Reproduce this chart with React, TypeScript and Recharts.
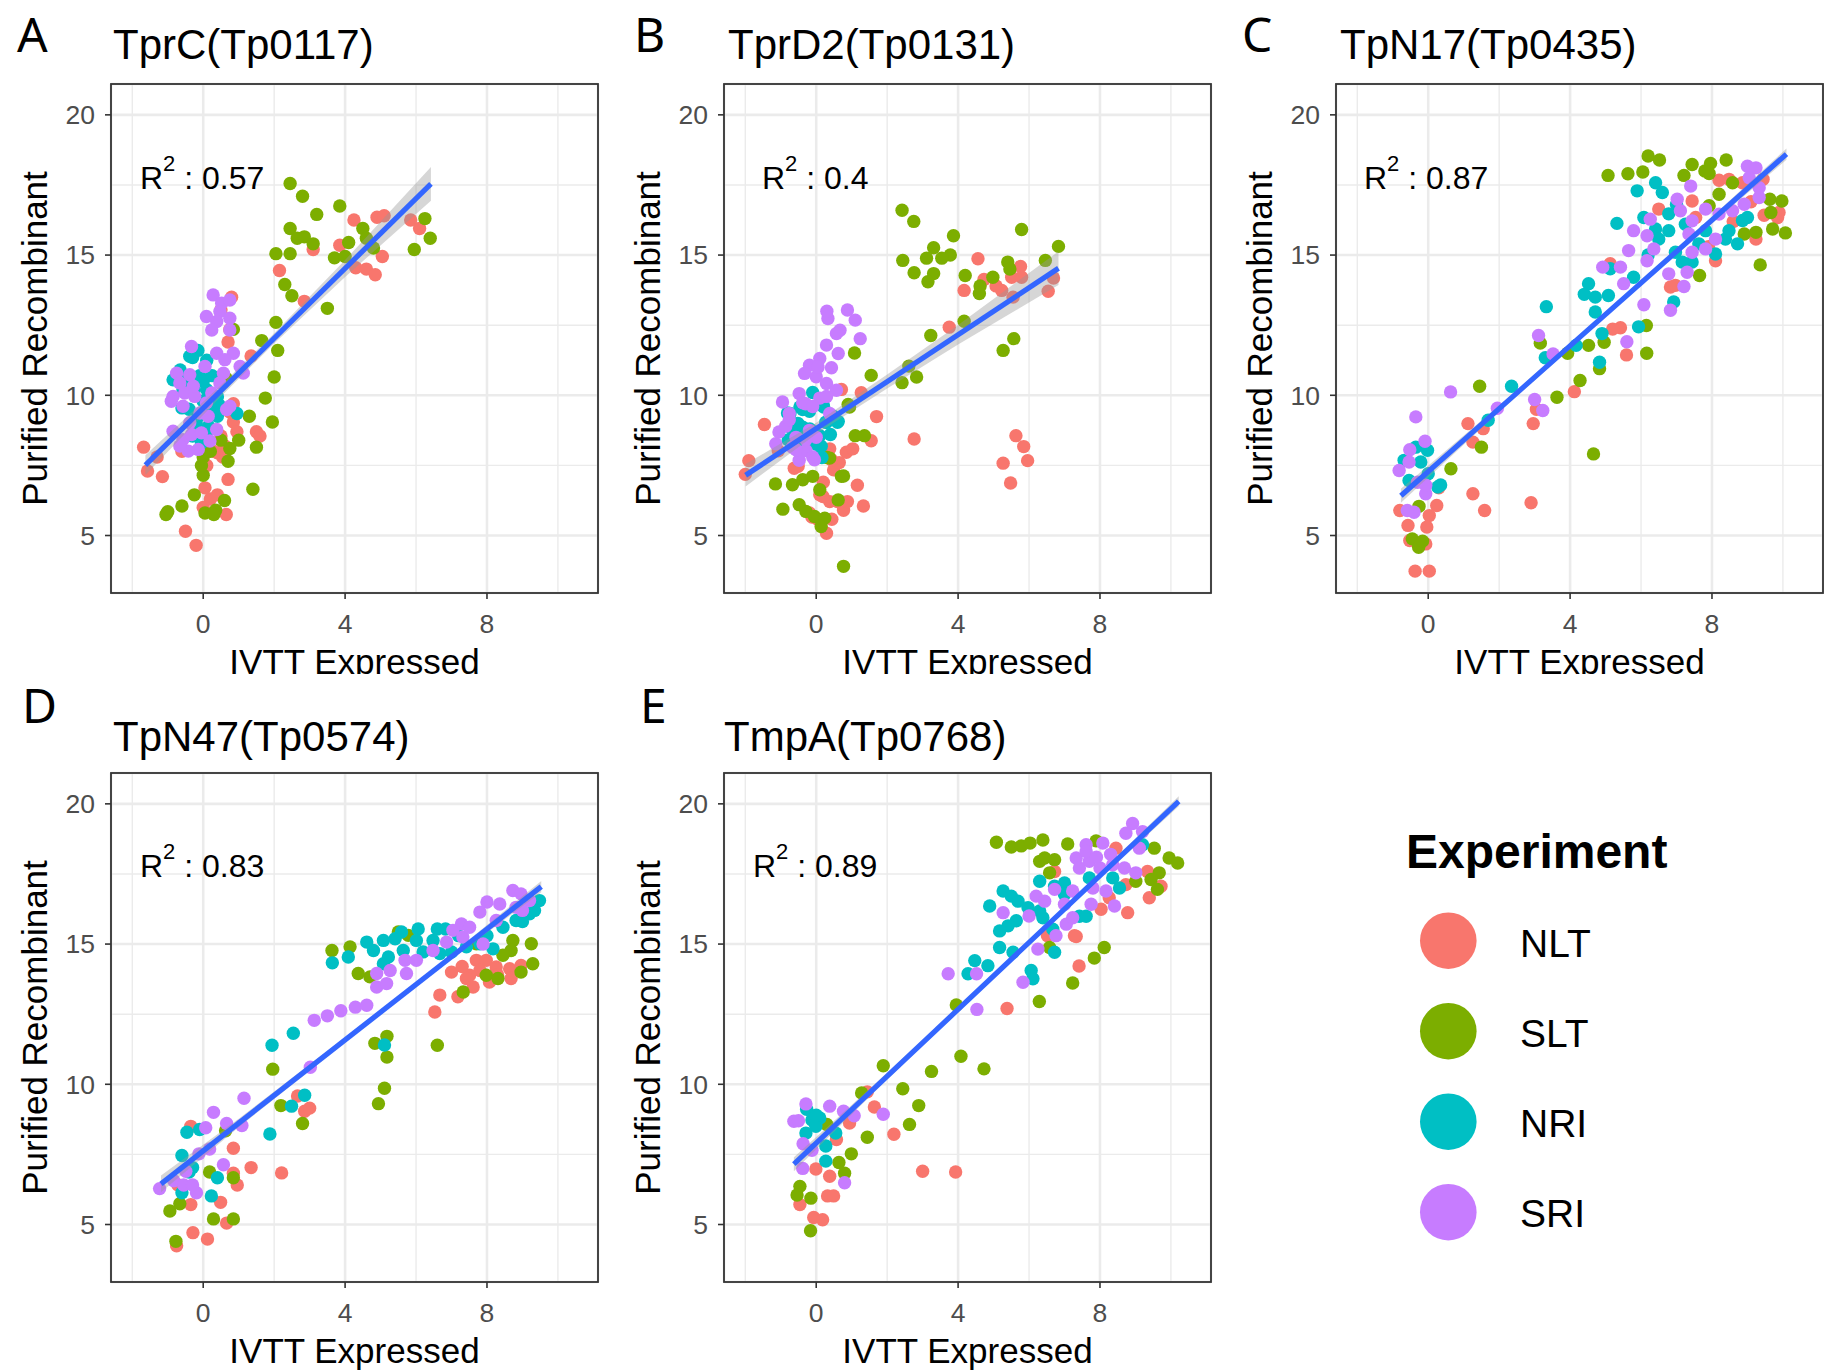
import React from "react";
import { Area, CartesianGrid, ComposedChart, Line, Scatter, XAxis, YAxis } from "recharts";

type Pt = [number, number];
type Band = [number, number, number];

const GROUPS = ["NLT", "SLT", "NRI", "SRI"];
const COLORS = ["#F8766D", "#7CAE00", "#00BFC4", "#C77CFF"];

const X_TICKS = [0, 4, 8];
const Y_TICKS = [5, 10, 15, 20];
const X_MINOR = [-2, 2, 6, 10];
const Y_MINOR = [7.5, 12.5, 17.5];
const X_DOMAIN = [-2.6, 11.13];
const Y_DOMAIN = [2.95, 21.1];

// ---- A: TprC(Tp0117)
const A_NLT: Pt[] = [
  [-1.68, 8.15], [-1.57, 7.3], [-1.3, 7.8], [-1.15, 7.1], [-0.5, 5.15], [-0.2, 4.65], [-0.6, 8.0],
  [0.0, 6.0], [0.05, 6.7], [0.1, 7.5], [0.2, 6.3], [0.4, 6.45], [0.4, 7.95], [0.3, 8.0], [0.5, 8.55],
  [0.55, 7.8], [0.6, 8.2], [0.65, 5.75], [0.7, 7.0], [0.75, 9.4], [0.85, 9.05], [0.85, 9.7], [0.95, 8.7],
  [1.5, 8.7], [1.6, 8.55], [0.7, 11.9], [0.75, 12.35], [0.8, 13.5], [1.35, 11.4], [0.5, 13.05],
  [2.15, 14.45], [2.85, 13.35], [3.1, 15.2], [3.85, 15.35], [4.25, 16.25], [4.3, 14.55], [4.6, 14.5],
  [4.85, 14.3], [5.05, 14.95], [4.9, 16.35], [5.1, 16.4], [5.85, 16.25], [6.1, 15.95],
];
const A_SLT: Pt[] = [
  [2.45, 17.55], [2.8, 17.1], [3.85, 16.75], [3.2, 16.45], [2.45, 15.95], [2.65, 15.6], [2.85, 15.65],
  [3.1, 15.4], [2.05, 15.05], [2.45, 15.05], [2.3, 13.95], [2.5, 13.55], [3.5, 13.1], [4.1, 15.45],
  [4.5, 15.95], [4.8, 15.25], [3.7, 14.9], [4.0, 14.95], [4.6, 15.6], [6.25, 16.3], [5.95, 15.2], [6.4, 15.6],
  [2.05, 12.6], [2.1, 11.6], [1.65, 11.95], [2.0, 10.65], [1.75, 9.9], [1.95, 9.05], [1.3, 9.25],
  [1.5, 8.15], [1.0, 8.4], [1.4, 6.65], [0.85, 12.35], [-1.0, 5.85], [-1.05, 5.75], [-0.6, 6.05],
  [-0.25, 6.45], [0.05, 5.8], [0.35, 5.9], [0.3, 5.75], [0.6, 6.25], [0.0, 7.15], [-0.05, 7.5],
  [0.0, 7.8], [0.2, 8.0], [0.5, 8.4], [0.7, 7.65], [0.75, 8.1], [0.65, 10.6],
];
const A_NRI: Pt[] = [
  [-0.15, 11.6], [-0.3, 11.35], [0.1, 11.25], [-0.65, 10.9], [-0.85, 10.55], [-0.45, 10.55], [-0.1, 10.7],
  [0.25, 10.7], [0.1, 10.2], [0.4, 9.95], [0.25, 9.6], [0.95, 9.35], [-0.4, 9.5], [-0.2, 9.0], [0.15, 8.9],
  [0.4, 9.25], [-0.3, 8.55], [-0.05, 8.3], [-0.6, 9.55], [0.45, 9.65], [0.0, 9.8], [-0.25, 10.2],
  [-0.38, 11.39], [0.0, 10.5], [0.33, 9.79], [-0.14, 9.25], [0.09, 8.6], [-0.57, 10.2],
];
const A_SRI: Pt[] = [
  [0.28, 13.58], [0.52, 13.28], [0.75, 13.4], [0.47, 12.99], [0.09, 12.81], [0.38, 12.63], [0.75, 12.75],
  [0.24, 12.33], [0.75, 12.33], [-0.33, 11.74], [0.38, 11.5], [0.85, 11.5], [0.61, 11.27], [1.04, 11.03],
  [1.13, 10.79], [-0.75, 10.79], [-0.38, 10.73], [0.05, 11.03], [0.57, 10.79], [0.47, 10.44], [-0.85, 9.96],
  [-0.9, 9.79], [-0.52, 10.08], [-0.24, 9.96], [0.09, 9.73], [-0.57, 9.61], [-0.09, 9.37], [0.14, 9.25],
  [0.75, 9.61], [-0.85, 8.72], [-0.57, 8.42], [-0.33, 8.6], [-0.05, 8.66], [0.19, 8.37], [-0.42, 8.01],
  [-0.14, 8.07], [-0.66, 8.19], [-0.66, 10.44], [-0.28, 10.32], [0.24, 10.08], [-0.38, 9.02], [0.38, 8.78],
  [0.66, 9.49],
];
const A_FIT: Pt[] = [[-1.63, 7.51], [6.42, 17.54]];
const A_BAND: Band[] = [[-1.63, 7.16, 7.86], [0.5, 9.96, 10.36], [2, 11.85, 12.21], [4, 14.22, 14.82], [6.42, 16.94, 18.14]];

// ---- B: TprD2(Tp0131)
const B_NLT: Pt[] = [
  [-2.0, 7.18], [-1.9, 7.67], [-1.46, 8.96], [-1.07, 8.02], [-0.51, 7.47], [-0.62, 7.4], [-0.12, 5.66],
  [-0.19, 5.8], [0.04, 5.58], [0.1, 6.45], [0.29, 5.08], [0.38, 6.21], [0.44, 5.58], [0.6, 6.21], [0.77, 5.9],
  [0.88, 6.21], [0.38, 8.09], [0.49, 7.34], [0.71, 10.21], [0.85, 7.97], [1.03, 8.09], [1.16, 6.79],
  [1.27, 10.09], [1.33, 6.05], [1.55, 8.38], [1.7, 9.24], [0.65, 7.6], [0.2, 6.9], [0.43, 7.7], [0.19, 6.39],
  [2.76, 8.44], [3.75, 12.43], [4.17, 13.74], [4.56, 14.87], [4.73, 14.13], [5.07, 13.9], [5.23, 13.74],
  [5.51, 14.21], [5.55, 13.5], [5.76, 14.59], [5.79, 14.21], [6.54, 13.71], [6.69, 14.18],
  [5.27, 7.58], [5.48, 6.87], [5.63, 8.56], [5.85, 8.17], [5.96, 7.67],
];
const B_SLT: Pt[] = [
  [2.42, 16.6], [2.75, 16.2], [3.87, 15.69], [3.31, 15.26], [3.78, 15.0], [3.54, 14.89], [3.11, 14.89],
  [2.44, 14.81], [2.76, 14.37], [3.31, 14.34], [3.15, 14.05], [5.79, 15.91], [6.83, 15.31], [6.46, 14.81],
  [5.4, 14.75], [5.46, 14.5], [4.2, 14.27], [4.98, 14.21], [4.62, 13.9], [4.6, 13.63], [4.17, 12.64],
  [5.57, 12.02], [5.27, 11.6], [3.23, 12.13], [2.61, 11.04], [2.83, 10.65], [2.42, 10.45], [1.55, 10.71],
  [1.08, 11.51], [0.94, 9.58], [1.1, 8.56], [1.36, 8.56], [0.77, 7.12], [-1.15, 6.84], [-0.67, 6.81],
  [-0.94, 5.94], [0.77, 3.9], [-0.38, 6.99], [-0.48, 6.1], [-0.29, 5.86], [-0.05, 5.68], [0.24, 5.62],
  [0.14, 5.32], [-0.1, 7.11], [0.1, 6.63], [0.71, 7.11], [0.62, 6.27], [0.3, 7.78], [0.38, 7.76], [0.9, 9.67],
];
const B_NRI: Pt[] = [
  [-0.1, 10.1], [0.19, 9.67], [-0.19, 9.43], [-0.52, 9.0], [-0.81, 9.37], [0.62, 9.07], [0.1, 7.82],
  [-0.38, 8.86], [0.29, 9.04], [-0.46, 9.58], [0.21, 9.58], [0.6, 9.04], [-0.74, 9.35], [-0.51, 8.96],
  [-0.18, 8.8], [0.1, 8.56], [-0.79, 8.41], [-0.35, 8.25], [0.16, 7.78], [0.27, 9.04], [-0.68, 8.8],
  [0.0, 8.25], [0.4, 8.6], [-0.38, 9.49], [-0.1, 8.71], [0.48, 9.25], [0.14, 8.18],
];
const B_SRI: Pt[] = [
  [0.88, 13.04], [0.33, 12.74], [1.1, 12.68], [0.67, 12.32], [1.24, 12.02], [0.29, 11.79], [0.62, 11.49],
  [0.1, 11.31], [-0.19, 11.07], [-0.33, 10.78], [0.0, 10.66], [0.29, 10.42], [0.57, 10.18], [-0.48, 10.06],
  [-0.95, 9.76], [-0.76, 9.35], [0.38, 9.35], [-1.05, 8.69], [-1.14, 8.27], [-0.67, 8.15], [-0.29, 8.03],
  [-0.48, 7.68], [-0.1, 7.8], [0.0, 8.5], [-0.57, 8.5], [-0.19, 8.75], [0.57, 12.2], [0.05, 11.0],
  [-0.86, 8.9], [0.3, 13.0], [-0.3, 9.7], [0.1, 9.9], [-0.38, 9.73], [-0.1, 9.6], [-0.76, 9.13],
  [-0.29, 8.42], [-0.57, 8.06], [-0.05, 7.7], [0.29, 9.96], [0.43, 10.98],
];
const B_FIT: Pt[] = [[-1.99, 7.15], [6.83, 14.53]];
const B_BAND: Band[] = [[-1.99, 6.75, 7.55], [0, 8.62, 9.02], [2, 10.24, 10.74], [4, 11.81, 12.51], [6.83, 13.93, 15.13]];

// ---- C: TpN17(Tp0435)
const C_NLT: Pt[] = [
  [-0.8, 5.89], [-0.57, 5.36], [0.03, 5.71], [-0.04, 5.3], [0.24, 6.07], [-0.07, 4.7], [-0.52, 4.82],
  [-0.37, 3.73], [0.03, 3.73], [1.12, 8.99], [1.26, 8.33], [1.26, 6.49], [1.59, 5.89], [1.55, 8.81], [0.3, 6.7],
  [2.96, 8.99], [3.05, 9.5], [2.9, 6.17], [4.12, 10.13], [5.59, 11.44], [5.42, 12.41], [5.2, 12.36],
  [8.2, 17.67], [8.48, 17.7], [8.86, 17.58], [9.44, 17.7], [9.47, 16.42], [9.85, 16.34], [9.89, 16.52],
  [9.24, 15.57], [8.1, 14.8], [6.5, 16.64], [7.54, 16.34], [7.44, 16.93], [6.83, 13.86], [6.97, 13.92],
  [5.13, 14.69], [8.6, 16.2], [9.1, 16.9], [7.9, 15.3],
];
const C_SLT: Pt[] = [
  [-0.26, 6.04], [-0.45, 4.88], [-0.27, 4.58], [-0.16, 4.8], [0.64, 7.38], [1.5, 8.15], [1.45, 10.32],
  [3.16, 11.86], [3.93, 11.5], [4.52, 11.78], [4.96, 11.89], [4.83, 10.95], [4.28, 10.53], [3.63, 9.93],
  [4.66, 7.91], [6.16, 11.5], [6.15, 12.49], [6.2, 18.53], [6.52, 18.39], [5.07, 17.84], [5.63, 17.9],
  [6.05, 17.96], [7.44, 18.23], [7.96, 18.27], [8.4, 18.39], [7.21, 17.84], [7.92, 17.91], [8.2, 17.17],
  [8.58, 17.58], [9.63, 16.99], [9.97, 16.93], [9.66, 16.52], [7.92, 16.76], [9.24, 15.81], [8.91, 15.75],
  [9.71, 15.93], [10.07, 15.79], [9.36, 14.65], [7.65, 14.27], [7.8, 18.0],
];
const C_NRI: Pt[] = [
  [-0.35, 8.15], [-0.02, 8.04], [-0.21, 7.62], [-0.68, 7.68], [-0.54, 6.96], [0.27, 6.73], [1.69, 9.11],
  [0.0, 7.2], [0.35, 6.8], [2.35, 10.32], [3.33, 13.16], [3.3, 11.34], [4.17, 11.78], [4.83, 11.18],
  [6.41, 17.58], [5.89, 17.29], [6.6, 17.23], [6.08, 16.34], [5.32, 16.13], [6.41, 15.93], [6.78, 15.87],
  [6.5, 15.57], [6.97, 15.1], [7.16, 14.75], [7.44, 14.75], [8.1, 15.04], [8.48, 15.87], [8.72, 15.4],
  [9.0, 16.34], [7.82, 15.87], [4.52, 13.98], [4.71, 13.5], [5.08, 13.56], [5.13, 14.51], [5.79, 14.21],
  [4.71, 12.97], [4.9, 12.2], [6.92, 13.33], [5.93, 12.44], [6.78, 16.47], [7.25, 16.1], [7.63, 15.4],
  [8.38, 15.57], [8.86, 16.23], [6.2, 15.0], [7.0, 16.8], [4.4, 13.6],
];
const C_SRI: Pt[] = [
  [0.63, 10.12], [-0.35, 9.23], [-0.09, 8.36], [-0.52, 8.06], [-0.82, 7.32], [-0.54, 7.62], [-0.07, 6.49],
  [-0.4, 5.83], [-0.59, 5.89], [-0.07, 6.79], [-0.3, 6.9], [1.95, 9.54], [3.0, 9.85], [3.23, 9.46],
  [3.11, 12.13], [3.52, 11.47], [9.0, 18.17], [9.24, 18.11], [9.05, 17.76], [9.33, 17.4], [7.4, 17.46],
  [7.02, 16.99], [7.11, 16.58], [7.44, 16.22], [7.82, 16.64], [8.2, 16.46], [8.58, 16.58], [8.91, 16.81],
  [6.26, 16.28], [5.79, 15.87], [6.17, 15.69], [7.35, 15.75], [8.1, 15.57], [7.82, 15.22], [7.44, 15.1],
  [6.36, 15.22], [5.65, 15.16], [6.17, 14.8], [6.78, 14.33], [7.3, 14.39], [7.21, 13.88], [6.08, 13.23],
  [6.83, 13.03], [4.92, 14.57], [5.42, 14.57], [5.51, 13.98], [5.6, 11.91], [9.33, 17.05],
];
const C_FIT: Pt[] = [[-0.77, 6.42], [10.1, 18.6]];
const C_BAND: Band[] = [[-0.77, 6.17, 6.67], [2, 9.4, 9.64], [5, 12.79, 12.99], [8, 16.13, 16.37], [10.1, 18.4, 18.8]];

// ---- D: TpN47(Tp0574)
const D_NLT: Pt[] = [
  [-0.75, 4.24], [-0.29, 4.71], [0.12, 4.48], [0.66, 5.05], [0.49, 5.79], [-0.35, 5.71], [-0.35, 8.5],
  [0.85, 7.72], [0.85, 6.83], [0.96, 6.41], [1.35, 7.03], [2.21, 6.84], [2.66, 9.58], [2.86, 9.04],
  [3.0, 9.15], [-0.71, 6.41], [7.7, 14.42], [7.98, 14.42], [8.26, 14.18], [7.8, 14.06], [7.51, 13.89],
  [8.07, 13.65], [8.64, 14.12], [8.68, 13.77], [8.96, 14.24], [7.0, 14.0], [7.42, 13.77], [6.67, 13.18],
  [7.18, 13.12], [6.53, 12.58], [7.61, 13.47], [8.3, 13.9], [7.3, 14.2],
];
const D_SLT: Pt[] = [
  [-0.94, 5.48], [-0.66, 5.74], [-0.77, 4.4], [0.18, 6.87], [0.29, 5.2], [0.85, 5.2], [0.85, 6.67],
  [0.63, 8.34], [1.96, 10.54], [2.19, 9.24], [2.8, 8.6], [4.84, 11.46], [5.18, 11.71], [5.18, 10.97],
  [5.11, 9.86], [4.94, 9.31], [6.6, 11.39], [5.5, 15.43], [5.78, 15.31], [4.14, 14.9], [3.63, 14.77],
  [4.37, 13.95], [4.7, 13.83], [7.7, 15.01], [8.73, 15.13], [8.68, 14.77], [9.25, 15.01], [9.29, 14.3],
  [8.96, 14.0], [7.98, 13.89], [8.31, 13.77], [7.33, 13.29], [8.45, 14.6],
];
const D_NRI: Pt[] = [
  [-0.46, 8.29], [-0.1, 8.39], [-0.6, 7.46], [-0.3, 7.03], [-0.6, 6.13], [0.23, 6.02], [0.4, 6.67],
  [1.94, 11.39], [2.54, 11.82], [1.88, 8.23], [2.49, 9.22], [2.86, 9.61], [5.11, 11.4], [-0.4, 6.87],
  [4.61, 15.07], [4.8, 14.77], [5.08, 15.13], [5.41, 15.19], [5.59, 15.43], [6.06, 15.54], [6.01, 15.13],
  [6.6, 15.54], [6.83, 15.54], [6.48, 15.13], [5.22, 14.54], [5.64, 14.77], [6.2, 14.72], [6.67, 14.66],
  [7.0, 14.72], [7.42, 14.9], [7.8, 15.01], [8.17, 14.83], [8.45, 15.6], [8.82, 15.84], [9.2, 16.08],
  [9.48, 16.55], [9.34, 16.2], [5.08, 14.3], [3.64, 14.33], [4.09, 14.54], [7.2, 15.3], [8.0, 15.3], [9.0, 15.8],
];
const D_SRI: Pt[] = [
  [-1.23, 6.28], [-0.83, 6.56], [-0.55, 6.41], [-0.19, 6.13], [-0.49, 6.9], [-0.12, 7.52], [0.07, 8.45],
  [0.29, 9.0], [0.66, 8.6], [1.09, 8.53], [1.15, 9.5], [0.18, 7.69], [0.57, 7.13], [3.02, 10.61],
  [3.13, 12.28], [3.5, 12.44], [3.88, 12.62], [4.29, 12.75], [-0.3, 6.41], [8.73, 16.91], [8.96, 16.79],
  [9.2, 16.55], [8.36, 16.43], [8.82, 16.31], [7.8, 16.14], [7.28, 15.72], [7.04, 15.49], [7.32, 15.25],
  [6.86, 15.07], [6.48, 14.77], [6.01, 14.42], [5.69, 14.42], [5.27, 14.06], [4.89, 13.95], [4.89, 13.47],
  [5.17, 13.59], [5.73, 13.95], [4.61, 12.82], [8.26, 15.84], [7.51, 15.6], [7.89, 15.0], [9.0, 16.2], [8.0, 16.5],
];
const D_FIT: Pt[] = [[-1.19, 6.45], [9.53, 17.05]];
const D_BAND: Band[] = [[-1.19, 6.15, 6.75], [1, 8.47, 8.77], [4, 11.48, 11.68], [7, 14.45, 14.65], [9.53, 16.85, 17.25]];

// ---- E: TmpA(Tp0768)
const E_NLT: Pt[] = [
  [-0.46, 5.71], [-0.07, 5.25], [0.18, 5.17], [0.32, 6.02], [0.49, 6.02], [-0.01, 6.98], [0.38, 6.72],
  [0.57, 8.03], [0.94, 8.62], [1.64, 9.19], [1.44, 9.73], [2.19, 8.22], [3.0, 6.9], [3.93, 6.87],
  [5.38, 12.7], [7.41, 14.22], [7.33, 15.27], [6.52, 15.3], [6.72, 17.59], [8.45, 18.42], [8.73, 17.12],
  [9.39, 16.65], [9.72, 17.06], [9.34, 17.59], [8.78, 16.12], [8.03, 16.24], [7.28, 15.3], [8.26, 16.65],
];
const E_SLT: Pt[] = [
  [3.95, 12.83], [4.08, 11.0], [4.73, 10.55], [3.25, 10.46], [2.89, 9.24], [2.44, 9.84], [1.89, 10.66],
  [1.28, 9.69], [1.44, 8.11], [2.63, 8.57], [0.99, 7.52], [0.64, 7.21], [0.8, 6.83], [-0.46, 6.36],
  [-0.54, 6.05], [-0.15, 5.94], [-0.16, 4.78], [0.3, 8.57], [6.29, 12.95], [5.08, 18.63], [5.5, 18.46],
  [5.78, 18.5], [6.03, 18.6], [6.39, 18.71], [7.09, 18.57], [6.3, 17.95], [6.44, 18.07], [6.72, 18.01],
  [7.89, 18.68], [9.53, 18.42], [9.95, 18.07], [10.19, 17.89], [9.67, 17.54], [9.44, 17.3], [9.01, 17.24],
  [9.62, 16.95], [8.12, 14.88], [7.84, 14.5], [7.23, 13.61], [6.58, 14.88], [6.58, 17.54],
];
const E_NRI: Pt[] = [
  [-0.27, 9.11], [-0.12, 8.73], [-0.29, 8.26], [0.1, 8.8], [0.27, 7.8], [0.55, 8.26], [0.27, 7.26],
  [-0.01, 8.5], [0.0, 8.9], [5.27, 16.89], [5.5, 16.71], [4.89, 16.36], [5.69, 16.53], [6.3, 17.24],
  [6.72, 17.06], [7.0, 17.18], [5.97, 16.3], [6.3, 16.18], [5.64, 15.83], [5.41, 15.65], [5.17, 15.47],
  [5.17, 14.88], [6.39, 15.94], [6.67, 15.53], [6.72, 14.71], [7.42, 15.99], [7.61, 15.99], [7.7, 17.36],
  [8.36, 17.36], [8.55, 17.0], [9.2, 18.54], [4.47, 14.41], [4.84, 14.23], [4.28, 13.94], [6.06, 14.06],
  [6.11, 13.76], [5.55, 14.71], [7.0, 16.77],
];
const E_SRI: Pt[] = [
  [-0.63, 8.68], [-0.29, 9.3], [0.38, 9.22], [0.77, 9.04], [1.07, 8.88], [1.89, 8.93], [-0.37, 7.88],
  [-0.12, 7.65], [-0.38, 7.0], [0.8, 6.49], [-0.5, 8.7], [4.53, 12.67], [8.92, 19.3], [8.73, 18.95],
  [9.2, 19.01], [7.61, 18.54], [8.08, 18.6], [7.33, 18.07], [7.42, 17.71], [7.7, 17.95], [8.0, 17.71],
  [8.36, 17.83], [8.69, 17.71], [9.01, 17.54], [7.8, 17.0], [8.17, 16.89], [7.23, 16.89], [6.72, 16.95],
  [6.2, 16.71], [6.44, 16.53], [6.0, 16.0], [7.0, 16.42], [7.75, 16.42], [8.41, 16.36], [7.05, 15.71],
  [7.23, 15.94], [6.76, 15.3], [6.25, 14.82], [5.83, 13.64], [3.72, 13.94], [4.52, 13.94], [5.27, 16.12],
  [7.61, 18.3], [9.11, 18.42], [7.9, 18.1], [8.3, 18.2],
];
const E_FIT: Pt[] = [[-0.63, 7.15], [10.22, 20.09]];
const E_BAND: Band[] = [[-0.63, 6.9, 7.4], [2, 10.17, 10.41], [5, 13.76, 13.96], [8, 17.34, 17.54], [10.22, 19.91, 20.27]];

const PANELS = [
  { letter: "A", title: "TprC(Tp0117)", r2: "0.57", series: [A_NLT, A_SLT, A_NRI, A_SRI], fit: A_FIT, band: A_BAND },
  { letter: "B", title: "TprD2(Tp0131)", r2: "0.4", series: [B_NLT, B_SLT, B_NRI, B_SRI], fit: B_FIT, band: B_BAND },
  { letter: "C", title: "TpN17(Tp0435)", r2: "0.87", series: [C_NLT, C_SLT, C_NRI, C_SRI], fit: C_FIT, band: C_BAND },
  { letter: "D", title: "TpN47(Tp0574)", r2: "0.83", series: [D_NLT, D_SLT, D_NRI, D_SRI], fit: D_FIT, band: D_BAND },
  { letter: "E", title: "TmpA(Tp0768)", r2: "0.89", series: [E_NLT, E_SLT, E_NRI, E_SRI], fit: E_FIT, band: E_BAND },
];

// where each panel's chart box sits, and its per-panel text offsets
const LAYOUT = [
  { left: 0.5, top: 0, letter: [16, 52], title: [112, 58.6], r2: [139, 189] },
  { left: 613.7, top: 0, letter: [20, 52], title: [114, 58.6], r2: [148, 189] },
  { left: 1226, top: 0, letter: [16, 52], title: [114, 58.6], r2: [138, 189] },
  { left: 0.5, top: 689, letter: [21, 34], title: [112, 61.5], r2: [139, 188] },
  { left: 613.7, top: 689, letter: [26, 34], title: [110, 61.5], r2: [139, 188] },
];

const CW = 607;
const CH = 683;
const PLOT = { left: 110, top: 84, width: 487, height: 509 };
const FONT = "'Liberation Sans', Arial, sans-serif";

const toXY = (pts: Pt[]) => pts.map(([x, y]) => ({ x, y }));

function Panel({ panel, pos }: { panel: (typeof PANELS)[number]; pos: (typeof LAYOUT)[number] }) {
  const fitData = toXY(panel.fit);
  const bandData = panel.band.map(([x, lo, hi]) => ({ x, band: [lo, hi] }));
  const tickStyle = { fill: "#4D4D4D", fontSize: 26.5, fontFamily: FONT };
  const tickLine = { stroke: "#333333", strokeWidth: 1.6 };
  return (
    <div style={{ position: "absolute", left: pos.left, top: pos.top, width: CW, height: CH }}>
      <ComposedChart width={CW} height={CH} margin={{ top: PLOT.top, right: 10, bottom: 0, left: 40 }}>
        <CartesianGrid stroke="#EBEBEB" strokeWidth={1.4} horizontalValues={Y_MINOR} verticalValues={X_MINOR} />
        <CartesianGrid stroke="#EBEBEB" strokeWidth={2.6} />
        <XAxis
          type="number"
          dataKey="x"
          domain={X_DOMAIN}
          ticks={X_TICKS}
          allowDataOverflow
          interval={0}
          height={90}
          axisLine={false}
          tickLine={tickLine}
          tickSize={6}
          tickMargin={15}
          tick={tickStyle}
        />
        <YAxis
          type="number"
          dataKey="y"
          domain={Y_DOMAIN}
          ticks={Y_TICKS}
          allowDataOverflow
          interval={0}
          width={70}
          axisLine={false}
          tickLine={tickLine}
          tickSize={6}
          tickMargin={10}
          tick={tickStyle}
        />
        {panel.series.map((pts, i) => (
          <Scatter
            key={GROUPS[i]}
            name={GROUPS[i]}
            data={toXY(pts)}
            dataKey="y"
            fill={COLORS[i]}
            isAnimationActive={false}
            zIndex={300}
            shape={(p: any) => <circle cx={p.cx} cy={p.cy} r={6.7} fill={COLORS[i]} />}
          />
        ))}
        <Area
          data={bandData}
          dataKey="band"
          type="linear"
          stroke="none"
          fill="#999999"
          fillOpacity={0.4}
          activeDot={false}
          isAnimationActive={false}
          zIndex={400}
        />
        <Line
          data={fitData}
          dataKey="y"
          type="linear"
          stroke="#3366FF"
          strokeWidth={5.2}
          dot={false}
          activeDot={false}
          isAnimationActive={false}
          zIndex={450}
        />
      </ComposedChart>
      <svg
        width={CW}
        height={CH}
        style={{ position: "absolute", left: 0, top: 0, pointerEvents: "none", overflow: "visible" }}
      >
        <rect x={PLOT.left} y={PLOT.top} width={PLOT.width} height={PLOT.height} fill="none" stroke="#333333" strokeWidth={1.8} />
        <text x={pos.letter[0]} y={pos.letter[1]} fontSize={48} fontFamily="'Noto Sans', sans-serif" fill="#000">
          {panel.letter}
        </text>
        <text x={pos.title[0]} y={pos.title[1]} fontSize={42} fontFamily={FONT} fill="#000">
          {panel.title}
        </text>
        <text x={pos.r2[0]} y={pos.r2[1]} fontSize={32} fontFamily={FONT} fill="#000">
          R
          <tspan dy={-17.6} fontSize={22}>2</tspan>
          <tspan dy={17.6}>{` : ${panel.r2}`}</tspan>
        </text>
        <text
          transform={`translate(46,${PLOT.top + PLOT.height / 2}) rotate(-90)`}
          textAnchor="middle"
          fontSize={35}
          fontFamily={FONT}
          fill="#000"
        >
          Purified Recombinant
        </text>
        <text x={PLOT.left + PLOT.width / 2} y={PLOT.top + PLOT.height + 81} textAnchor="middle" fontSize={35} fontFamily={FONT} fill="#000">
          IVTT Expressed
        </text>
      </svg>
    </div>
  );
}

function Legend() {
  return (
    <svg width={1824} height={1370} style={{ position: "absolute", left: 0, top: 0, pointerEvents: "none" }}>
      <text x={1406} y={868} fontSize={48} fontWeight="bold" fontFamily={FONT} fill="#000">
        Experiment
      </text>
      {GROUPS.map((g, i) => (
        <g key={g}>
          <circle cx={1448.3} cy={940.7 + i * 90.5} r={28.3} fill={COLORS[i]} />
          <text x={1520} y={956.7 + i * 90} fontSize={39} fontFamily={FONT} fill="#000">
            {g}
          </text>
        </g>
      ))}
    </svg>
  );
}

export default function App() {
  return (
    <div
      style={{
        position: "absolute",
        left: 0,
        top: 0,
        width: 1824,
        height: 1370,
        overflow: "hidden",
        background: "#FFFFFF",
        fontFamily: FONT,
      }}
    >
      <div style={{ position: "absolute", left: 0, top: 0, width: 1824, height: 674, overflow: "hidden" }}>
        {PANELS.slice(0, 3).map((p, i) => (
          <Panel key={p.letter} panel={p} pos={LAYOUT[i]} />
        ))}
      </div>
      {PANELS.slice(3).map((p, i) => (
        <Panel key={p.letter} panel={p} pos={LAYOUT[i + 3]} />
      ))}
      <Legend />
    </div>
  );
}
